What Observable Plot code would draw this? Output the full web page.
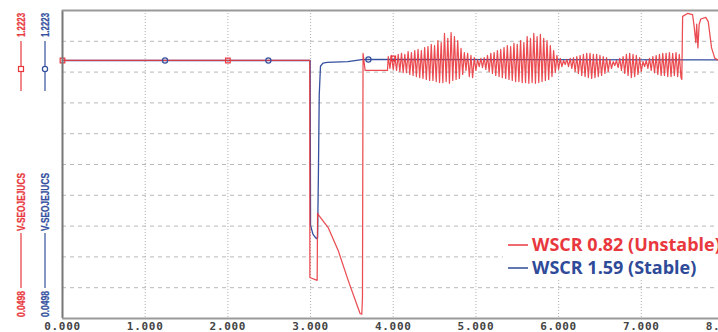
<!DOCTYPE html>
<html><head><meta charset="utf-8">
<script src="https://cdn.jsdelivr.net/npm/d3@7"></script>
<script src="https://cdn.jsdelivr.net/npm/@observablehq/plot@0.6"></script>
<style>
html,body{margin:0;padding:0;background:#fff;overflow:hidden;}
#chart{width:718px;height:332px;overflow:hidden;position:relative;}
svg{display:block;}
g[aria-label="x-axis tick label"] text{letter-spacing:0.7px;}
</style></head><body><div id="chart"></div>
<script>
// ---- axis / scale values ----
const yMin = 0.0498, yMax = 1.2223;
const xTicks = [0, 1, 2, 3, 4, 5, 6, 7, 8];

// ---- blue: WSCR 1.59 (Stable) ----
const blueT = [0, 2.995, 3.0, 3.03, 3.07, 3.085, 3.095, 3.105, 3.12, 3.15, 3.20, 3.45, 3.62, 3.70, 8.2];
const blueV = [1.032, 1.032, 0.404, 0.370, 0.354, 0.358, 0.60, 0.90, 1.010, 1.022, 1.025, 1.028, 1.035, 1.036, 1.034];

// ---- red: WSCR 0.82 (Unstable), before oscillation ----
const redPreT = [0, 2.99, 2.992, 3.08, 3.085, 3.10, 3.213, 3.334, 3.455, 3.599, 3.62, 3.628, 3.635, 3.66, 3.93];
const redPreV = [1.032, 1.032, 0.206, 0.195, 0.450, 0.442, 0.396, 0.309, 0.195, 0.069, 0.066, 0.13, 1.059, 0.994, 0.994];

// ---- red oscillation: per-cycle peaks (start 3.94 s, one cycle every 0.04 s) ----
const oscStart = 3.94, oscCycle = 0.04;
const redOscHi = [1.047,1.051,1.047,1.055,1.059,1.055,1.066,1.062,1.070,1.074,
  1.070,1.081,1.085,1.093,1.089,1.108,1.100,1.135,1.116,1.138,
  1.123,1.108,1.078,1.062,1.059,1.051,1.043,1.036,1.040,1.043,
  1.051,1.059,1.062,1.070,1.074,1.081,1.089,1.085,1.097,1.093,
  1.108,1.100,1.123,1.116,1.135,1.123,1.131,1.116,1.108,1.089,
  1.070,1.051,1.040,1.032,1.036,1.040,1.043,1.047,1.051,1.055,
  1.059,1.059,1.055,1.055,1.051,1.047,1.043,1.036,1.028,1.032,
  1.040,1.047,1.055,1.059,1.055,1.051,1.043,1.028,1.032,1.040,
  1.047,1.051,1.055,1.059,1.059,1.062,1.059,1.062,1.055];
const redOscLo = [1.002,0.998,0.994,0.990,0.986,0.986,0.979,0.975,0.971,0.967,
  0.964,0.960,0.956,0.956,0.952,0.948,0.948,0.952,0.945,0.956,
  0.960,0.964,0.979,0.994,0.971,0.967,0.994,1.009,1.005,0.998,
  0.990,0.983,0.975,0.971,0.967,0.964,0.960,0.956,0.952,0.952,
  0.948,0.948,0.945,0.948,0.945,0.948,0.952,0.956,0.960,0.971,
  0.986,0.998,1.009,1.017,1.009,1.002,0.990,0.983,0.975,0.971,
  0.967,0.964,0.967,0.971,0.975,0.983,0.990,1.002,1.013,1.005,
  0.994,0.983,0.975,0.967,0.971,0.979,0.990,1.009,1.002,0.994,
  0.986,0.979,0.975,0.975,0.971,0.971,0.975,0.971,0.967];

// ---- red after oscillation ----
const redPostT = [7.49, 7.50, 7.56, 7.62, 7.64, 7.66, 7.67, 7.685, 7.70, 7.72, 7.78, 7.81, 7.85, 7.89, 7.95, 8.2];
const redPostV = [0.960, 1.200, 1.211, 1.207, 1.160, 1.100, 1.170, 1.080, 1.170, 1.190, 1.196, 1.180, 1.080, 1.040, 1.030, 1.032];

// ---- trace markers ----
const blueMarkT = [1.24, 2.49, 3.70];
const blueMarkV = [1.032, 1.032, 1.036];
const redMarkT = [0.0, 2.0, 4.0];
const redMarkV = [1.032, 1.032, 1.040];

// ---- legend text ----
const legendLabels = ["WSCR 0.82 (Unstable)", "WSCR 1.59 (Stable)"];
const channelName = "V-SEOJEJUCS";
const colRed = "#e8383e", colBlue = "#34509e";

// build tables
const blue = blueT.map((t, i) => ({t, v: blueV[i]}));
const red = redPreT.map((t, i) => ({t, v: redPreV[i]}));
redOscHi.forEach((h, i) => {
  red.push({t: oscStart + i * oscCycle, v: h});
  red.push({t: oscStart + i * oscCycle + oscCycle / 2, v: redOscLo[i]});
});
redPostT.forEach((t, i) => red.push({t, v: redPostV[i]}));
const blueMarks = blueMarkT.map((t, i) => ({t, v: blueMarkV[i]}));
const redMarks = redMarkT.map((t, i) => ({t, v: redMarkV[i]}));
const yGrid = d3.range(1, 10).map(k => yMin + k * (yMax - yMin) / 10);

const svg = Plot.plot({
  width: 740, height: 332,
  marginLeft: 62, marginRight: 0, marginTop: 10, marginBottom: 14,
  style: {background: "#fff", overflow: "visible", maxWidth: "none"},
  x: {domain: [0, 8.2], ticks: xTicks, tickFormat: d3.format(".3f")},
  y: {domain: [yMin, yMax]},
  marks: [
    Plot.ruleY(yGrid, {stroke: "#b8b8b8", strokeDasharray: "4,4", strokeWidth: 1}),
    Plot.ruleX(xTicks.slice(1), {stroke: "#b0b0b0", strokeDasharray: "1,2", strokeWidth: 1}),
    Plot.line(blue, {x: "t", y: "v", stroke: colBlue, strokeWidth: 1.3}),
    Plot.line(red, {x: "t", y: "v", stroke: colRed, strokeWidth: 1.25, strokeOpacity: 0.9}),
    Plot.dot(blueMarks, {x: "t", y: "v", r: 2.6, stroke: colBlue, fill: "none", strokeWidth: 1.2}),
    Plot.dot(redMarks, {x: "t", y: "v", r: 2.6, symbol: "square", stroke: colRed, fill: "none", strokeWidth: 1.2}),
    Plot.ruleX([0], {stroke: "#777", strokeWidth: 2}),
    Plot.ruleY([yMin, yMax], {stroke: "#9a9a9a", strokeWidth: 2}),
    Plot.axisX({ticks: xTicks, tickSize: 0, tickPadding: 4, tickFormat: d3.format(".3f"),
      fontSize: 11, fontWeight: "bold", fontFamily: "DejaVu Sans Mono", fill: "#444", label: null}),
    Plot.axisY({ticks: [], label: null})
  ]
});
svg.setAttribute("width", 740);
svg.style.width = "740px";

const s = d3.select(svg);
// left rotated channel legend
function vtext(x, yc, txt, len, color) {
  s.append("text")
    .attr("transform", `translate(${x},${yc}) rotate(-90)`)
    .attr("text-anchor", "middle").attr("dominant-baseline", "central")
    .attr("font-family", "'Liberation Sans Narrow', 'Liberation Sans', sans-serif")
    .attr("font-weight", "bold").attr("font-size", 11)
    .attr("stroke", color).attr("stroke-width", 0.25)
    .attr("textLength", len).attr("lengthAdjust", "spacingAndGlyphs")
    .attr("fill", color).text(txt);
}
function vline(x, y1, y2, color) {
  s.append("line").attr("x1", x).attr("x2", x).attr("y1", y1).attr("y2", y2)
    .attr("stroke", color).attr("stroke-width", 1.2);
}
[[21, colRed, "sq"], [45, colBlue, "ci"]].forEach(([x, c, m]) => {
  vtext(x, 25, d3.format(".4f")(yMax), 24, c);
  vline(x, 41, 91, c);
  if (m === "sq") s.append("rect").attr("x", x - 2.5).attr("y", 66.5).attr("width", 5).attr("height", 5)
    .attr("fill", "#fff").attr("stroke", c).attr("stroke-width", 1.2);
  else s.append("circle").attr("cx", x).attr("cy", 69).attr("r", 2.6)
    .attr("fill", "#fff").attr("stroke", c).attr("stroke-width", 1.2);
  vtext(x, 202, channelName, 58, c);
  vline(x, 233, 288, c);
  vtext(x, 304, d3.format(".4f")(yMin), 26, c);
});

// bottom-right series legend
s.append("rect").attr("x", 503).attr("y", 231).attr("width", 240).attr("height", 48).attr("fill", "#fff");
[[legendLabels[0], colRed, 245], [legendLabels[1], "#2e4a98", 268]].forEach(([txt, c, y]) => {
  s.append("line").attr("x1", 508).attr("x2", 528).attr("y1", y).attr("y2", y)
    .attr("stroke", c).attr("stroke-width", 1.5);
  s.append("text").attr("x", 532).attr("y", y + 6).attr("text-anchor", "start")
    .attr("font-family", "'Open Sans', sans-serif").attr("font-weight", "bold")
    .attr("font-size", 18).attr("fill", c).text(txt);
});

document.getElementById("chart").appendChild(svg);
</script>
</body></html>
